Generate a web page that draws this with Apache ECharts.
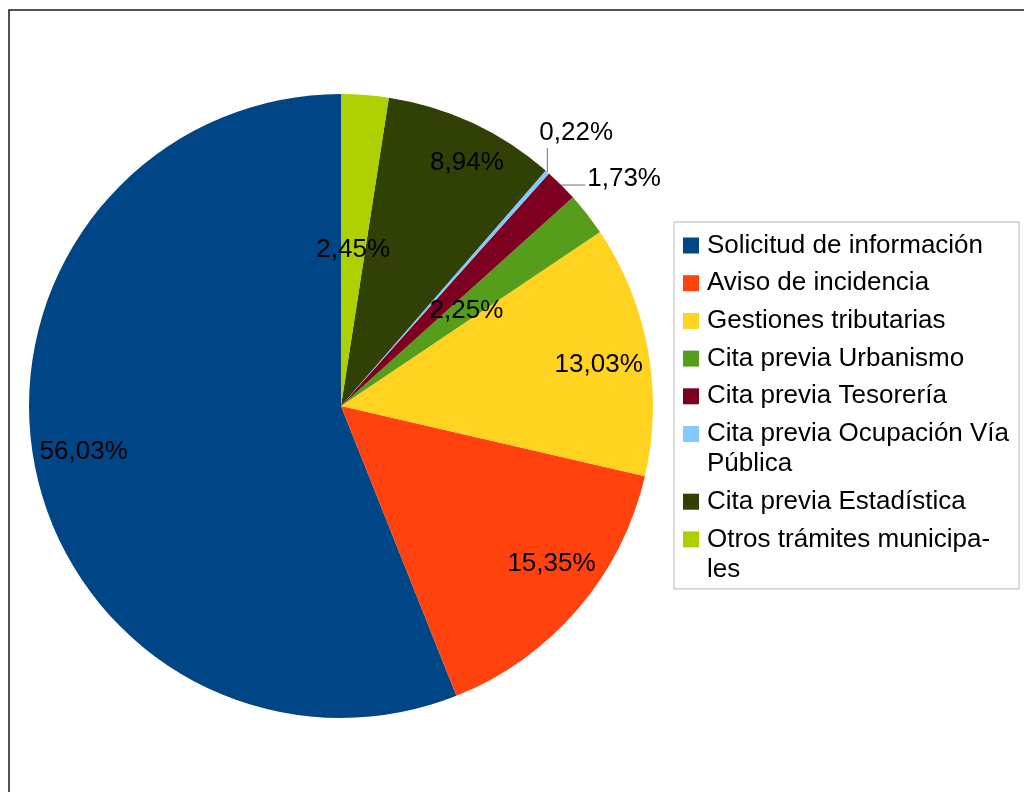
<!DOCTYPE html>
<html>
<head>
<meta charset="utf-8">
<script src="https://cdn.jsdelivr.net/npm/echarts@6/dist/echarts.min.js"></script>
<style>
  html, body { margin: 0; padding: 0; background: #fff; }
  #chart { width: 1024px; height: 792px; }
</style>
</head>
<body>
<div id="chart"></div>
<script>
// ---- data ----
const categories = [
  'Solicitud de información',
  'Aviso de incidencia',
  'Gestiones tributarias',
  'Cita previa Urbanismo',
  'Cita previa Tesorería',
  'Cita previa Ocupación Vía Pública',
  'Cita previa Estadística',
  'Otros trámites municipales'
];
const shares = [56.03, 15.35, 13.03, 2.25, 1.73, 0.22, 8.94, 2.45];
const legendLabels = [
  'Solicitud de información',
  'Aviso de incidencia',
  'Gestiones tributarias',
  'Cita previa Urbanismo',
  'Cita previa Tesorería',
  'Cita previa Ocupación Vía\nPública',
  'Cita previa Estadística',
  'Otros trámites municipa-\nles'
];

// ---- styles ----
const colors = ['#004586', '#ff420e', '#ffd320', '#579d1c', '#7e0021', '#83caff', '#314004', '#aecf00'];
// where each slice label goes: 'far' = outer band, 'mid' = half radius, 'out' = outside with leader
const placement = ['far', 'far', 'far', 'mid', 'out', 'out', 'far', 'mid'];
const labelOffsets = { 0: [-1, -3], 1: [12.5, -12], 2: [1, 6], 3: [0, 2.5], 6: [16, -6], 7: [0, 2] };
const FONT = 'Liberation Sans';
const FS = 26;

const fmt = v => v.toFixed(2).replace('.', ',') + '%';
const labelText = { fontFamily: FONT, fontSize: FS, color: '#000' };

const mainData = categories.map((name, i) => {
  const p = placement[i];
  const item = { name, value: shares[i], itemStyle: { color: colors[i] } };
  if (p === 'mid') {
    item.label = Object.assign({ show: true, position: 'inside', offset: labelOffsets[i] || [0, 0] }, labelText);
    item.labelLine = { show: false };
  } else if (p === 'out') {
    item.label = Object.assign({ show: true, position: 'outside', distanceToLabelLine: 2 }, labelText);
    item.labelLine = { show: true, length: 2, length2: 22, lineStyle: { color: '#707070', width: 1 } };
  } else {
    item.label = { show: false };
    item.labelLine = { show: false };
  }
  return item;
});

const farData = categories.map((name, i) => {
  const item = { name, value: shares[i] };
  if (placement[i] === 'far') {
    item.label = Object.assign({ show: true, position: 'inside', offset: labelOffsets[i] || [0, 0] }, labelText);
  } else {
    item.label = { show: false };
  }
  return item;
});

// legend markers drawn as rich-text squares so they align with the first text line
const rich = {
  t: { fontFamily: FONT, fontSize: FS, color: '#000', lineHeight: 30 },
  gap: { width: 8, height: 16 },
  ind: { width: 24, height: 16 }
};
colors.forEach((c, i) => { rich['sq' + i] = { width: 16, height: 16, backgroundColor: c }; });

const CENTER = [341, 406];
const R = 312;

const chart = echarts.init(document.getElementById('chart'), null, { renderer: 'canvas' });
chart.setOption({
  animation: false,
  backgroundColor: '#fff',
  graphic: [{
    type: 'polyline',
    shape: { points: [[9, 800], [9, 10], [1040, 10]] },
    style: { stroke: '#1a1a1a', lineWidth: 1.5, fill: null },
    silent: true
  }],
  legend: {
    orient: 'vertical',
    left: 674,
    top: 222,
    padding: [8.5, 10, 4.5, 4],
    itemWidth: 0,
    itemHeight: 16,
    itemGap: 7.7,
    icon: 'rect',
    itemStyle: { opacity: 0 },
    selectedMode: false,
    borderColor: '#b3b3b3',
    borderWidth: 1,
    textStyle: { fontFamily: FONT, fontSize: FS, color: '#000', lineHeight: 30, rich: rich },
    data: categories,
    formatter: name => {
      const i = categories.indexOf(name);
      return legendLabels[i].split('\n')
        .map((ln, k) => (k === 0 ? '{sq' + i + '|}{gap|}' : '{ind|}') + '{t|' + ln + '}')
        .join('\n');
    }
  },
  series: [
    {
      type: 'pie',
      center: CENTER,
      radius: R,
      startAngle: 90,
      clockwise: false,
      avoidLabelOverlap: false,
      silent: true,
      itemStyle: { borderWidth: 0 },
      emphasis: { disabled: true },
      data: mainData,
      labelLayout: function (p) {
        const pts = p.labelLinePoints;
        if (!pts) return {};
        const e = pts[0];
        if (p.dataIndex === 5) {
          return {
            x: e[0] - 8, y: e[1] - 26, align: 'left', verticalAlign: 'bottom',
            labelLinePoints: [[e[0], e[1]], [e[0], e[1] - 24], [e[0], e[1] - 24]]
          };
        }
        if (p.dataIndex === 4) {
          return {
            x: e[0] + 26, y: e[1] - 6, align: 'left', verticalAlign: 'middle',
            labelLinePoints: [[e[0], e[1]], [e[0] + 24, e[1]], [e[0] + 24, e[1]]]
          };
        }
        return {};
      },
      label: { formatter: p => fmt(p.value) }
    },
    {
      type: 'pie',
      center: CENTER,
      radius: [204, R],
      startAngle: 90,
      clockwise: false,
      avoidLabelOverlap: false,
      silent: true,
      legendHoverLink: false,
      itemStyle: { color: 'rgba(0,0,0,0)', borderWidth: 0 },
      emphasis: { disabled: true },
      labelLine: { show: false },
      data: farData,
      label: { formatter: p => fmt(p.value) }
    }
  ]
});
</script>
</body>
</html>
